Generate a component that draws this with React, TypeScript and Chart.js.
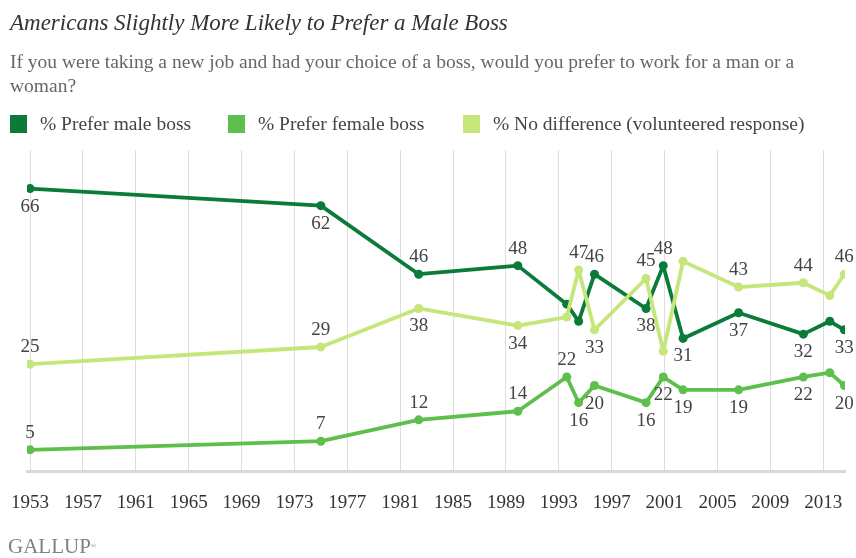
import React, { useEffect, useRef } from "react";
import { Chart, registerables } from "chart.js";

Chart.register(...registerables);

const surveyYears = [1953, 1975, 1982.4, 1989.9, 1993.6, 1994.5, 1995.7, 1999.6, 2000.9, 2002.4, 2006.6, 2011.5, 2013.5, 2014.6];
const maleBoss = [66, 62, 46, 48, 39, 35, 46, 38, 48, 31, 37, 32, 35, 33];
const femaleBoss = [5, 7, 12, 14, 22, 16, 20, 16, 22, 19, 19, 22, 23, 20];
const noDifference = [25, 29, 38, 34, 36, 47, 33, 45, 28, 49, 43, 44, 41, 46];
const tickYears = [1953, 1957, 1961, 1965, 1969, 1973, 1977, 1981, 1985, 1989, 1993, 1997, 2001, 2005, 2009, 2013];

// label placement: a = above, b = below, "" = no label
const maleLabelPos = ["b", "b", "a", "a", "", "", "a", "b", "a", "b", "b", "b", "", "b"];
const femaleLabelPos = ["a", "a", "a", "a", "a", "b", "b", "b", "b", "b", "b", "b", "", "b"];
const noDiffLabelPos = ["a", "a", "b", "b", "", "a", "b", "a", "", "", "a", "a", "", "a"];

const seriesNames = ["% Prefer male boss", "% Prefer female boss", "% No difference (volunteered response)"];
const seriesColors = ["#0b7b39", "#5ebf4c", "#c4e67a"];

const SERIF = '"Liberation Serif", "DejaVu Serif", serif';

const labelPlugin = {
  id: "pointLabels",
  afterDatasetsDraw(chart: any) {
    const ctx = chart.ctx;
    const placements = [maleLabelPos, femaleLabelPos, noDiffLabelPos];
    ctx.save();
    ctx.font = `19px ${SERIF}`;
    ctx.fillStyle = "#444";
    ctx.textAlign = "center";
    ctx.textBaseline = "middle";
    chart.data.datasets.forEach((ds: any, di: number) => {
      const meta = chart.getDatasetMeta(di);
      meta.data.forEach((pt: any, i: number) => {
        const pos = placements[di][i];
        if (!pos) return;
        const v = ds.data[i].y;
        const y = pos === "a" ? pt.y - 17 : pt.y + 18;
        ctx.fillText(String(v), pt.x, y);
      });
    });
    ctx.restore();
  },
};

function ChartCanvas() {
  const ref = useRef<HTMLCanvasElement | null>(null);
  useEffect(() => {
    if (!ref.current) return;
    const mk = (vals: number[]) => vals.map((v, i) => ({ x: surveyYears[i], y: v }));
    const series = [maleBoss, femaleBoss, noDifference];
    const orders = [2, 1, 0];
    const chart = new Chart(ref.current, {
      type: "line",
      data: {
        datasets: series.map((vals, i) => ({
          label: seriesNames[i],
          data: mk(vals),
          borderColor: seriesColors[i],
          backgroundColor: seriesColors[i],
          pointBackgroundColor: seriesColors[i],
          pointBorderWidth: 0,
          pointRadius: 4.5,
          borderWidth: 3.8,
          tension: 0,
          borderJoinStyle: "round",
          borderCapStyle: "round",
          order: orders[i],
        })),
      },
      options: {
        animation: false,
        responsive: false,
        maintainAspectRatio: false,
        layout: { padding: { left: 27, right: 11, top: 150, bottom: 24 } },
        plugins: { legend: { display: false }, tooltip: { enabled: false } },
        scales: {
          x: {
            type: "linear",
            min: 1952.77,
            max: 2014.65,
            afterBuildTicks: (axis: any) => {
              axis.ticks = tickYears.map((v) => ({ value: v }));
            },
            afterFit: (axis: any) => {
              axis.paddingLeft = 0;
              axis.paddingRight = 0;
            },
            grid: { color: "#dddddd", lineWidth: 1, drawTicks: false },
            border: { display: true, color: "#d9d9d9", width: 3 },
            ticks: {
              padding: 20,
              color: "#333",
              font: { family: SERIF, size: 19 },
              maxRotation: 0,
              autoSkip: false,
              callback: (v: any) => String(v),
            },
          },
          y: {
            type: "linear",
            min: 0,
            max: 75,
            display: false,
          },
        },
      },
      plugins: [labelPlugin],
    });
    return () => chart.destroy();
  }, []);
  return <canvas ref={ref} width={856} height={558} style={{ position: "absolute", left: 0, top: 0, width: 856, height: 558 }} />;
}

export default function App() {
  return (
    <div style={{ position: "absolute", left: 0, top: 0, width: 856, height: 558, background: "#fff", overflow: "hidden", fontFamily: SERIF }}>
      <ChartCanvas />
      <div style={{ position: "absolute", left: 10, top: 9, fontSize: 23, lineHeight: "28px", fontStyle: "italic", color: "#333", whiteSpace: "nowrap" }}>
        Americans Slightly More Likely to Prefer a Male Boss
      </div>
      <div style={{ position: "absolute", left: 10, top: 50, fontSize: 19.5, lineHeight: "24px", color: "#666", whiteSpace: "nowrap" }}>
        If you were taking a new job and had your choice of a boss, would you prefer to work for a man or a
        <br />
        woman?
      </div>
      {[10, 228, 463].map((x, i) => (
        <div key={i} style={{ position: "absolute", left: x, top: 114, height: 19, display: "flex", alignItems: "center", whiteSpace: "nowrap" }}>
          <div style={{ width: 17, height: 18, background: seriesColors[i], marginRight: 13 }} />
          <span style={{ fontSize: 19.5, color: "#444" }}>{seriesNames[i]}</span>
        </div>
      ))}
      <div style={{ position: "absolute", left: 8, top: 533, fontSize: 21, lineHeight: "26px", color: "#808080", whiteSpace: "nowrap" }}>
        GALLUP<span style={{ fontSize: 7, verticalAlign: "top" }}>®</span>
      </div>
    </div>
  );
}
